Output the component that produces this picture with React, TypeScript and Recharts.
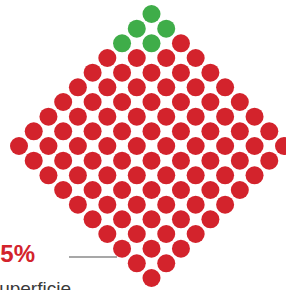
import React from 'react';
import { ScatterChart, Scatter, XAxis, YAxis } from 'recharts';

const categories = ['Verde', 'Rojo'];
const counts = [5, 95];
const colors = ['#3fad49', '#d3232c'];
const labelValue = '95%';
const labelText = 'Superficie';
const gridSize = 10;

type Cell = { u: number; v: number };

function buildCells(): Cell[] {
  const cells: Cell[] = [];
  for (let v = 0; v <= 2 * (gridSize - 1); v++) {
    const lo = Math.max(0, v - (gridSize - 1));
    const hi = Math.min(gridSize - 1, v);
    for (let i = hi; i >= lo; i--) {
      const j = v - i;
      cells.push({ u: j - i, v });
    }
  }
  return cells;
}

const allCells = buildCells();
const seriesData: Cell[][] = [];
{
  let start = 0;
  counts.forEach((c) => {
    seriesData.push(allCells.slice(start, start + c));
    start += c;
  });
}

const makeShape = (fill: string) => (props: any) => (
  <circle cx={props.cx} cy={props.cy} r={9} fill={fill} />
);

export default function App() {
  return (
    <div style={{ position: 'absolute', left: 0, top: 0, width: 286, height: 290, overflow: 'hidden', background: '#fff' }}>
      <ScatterChart width={286} height={290} margin={{ left: 19, right: 2, top: 14, bottom: 12 }}>
        <XAxis type="number" dataKey="u" domain={[-9, 9]} hide />
        <YAxis type="number" dataKey="v" domain={[0, 18]} hide reversed />
        {categories.map((name, k) => (
          <Scatter
            key={name}
            name={name}
            data={seriesData[k]}
            shape={makeShape(colors[k])}
            isAnimationActive={false}
          />
        ))}
      </ScatterChart>
      <svg width={286} height={290} style={{ position: 'absolute', left: 0, top: 0, pointerEvents: 'none' }}>
        <line x1={69} y1={257} x2={117} y2={257} stroke="#8a8a8a" strokeWidth={1.5} />
        <text x={35} y={262} textAnchor="end" fill={colors[1]} fontFamily="Liberation Sans, Arial, sans-serif" fontWeight="bold" fontSize={24}>
          {labelValue}
        </text>
        <text x={71} y={295} textAnchor="end" fill="#3a3a3a" fontFamily="Liberation Sans, Arial, sans-serif" fontSize={19}>
          {labelText}
        </text>
      </svg>
    </div>
  );
}
